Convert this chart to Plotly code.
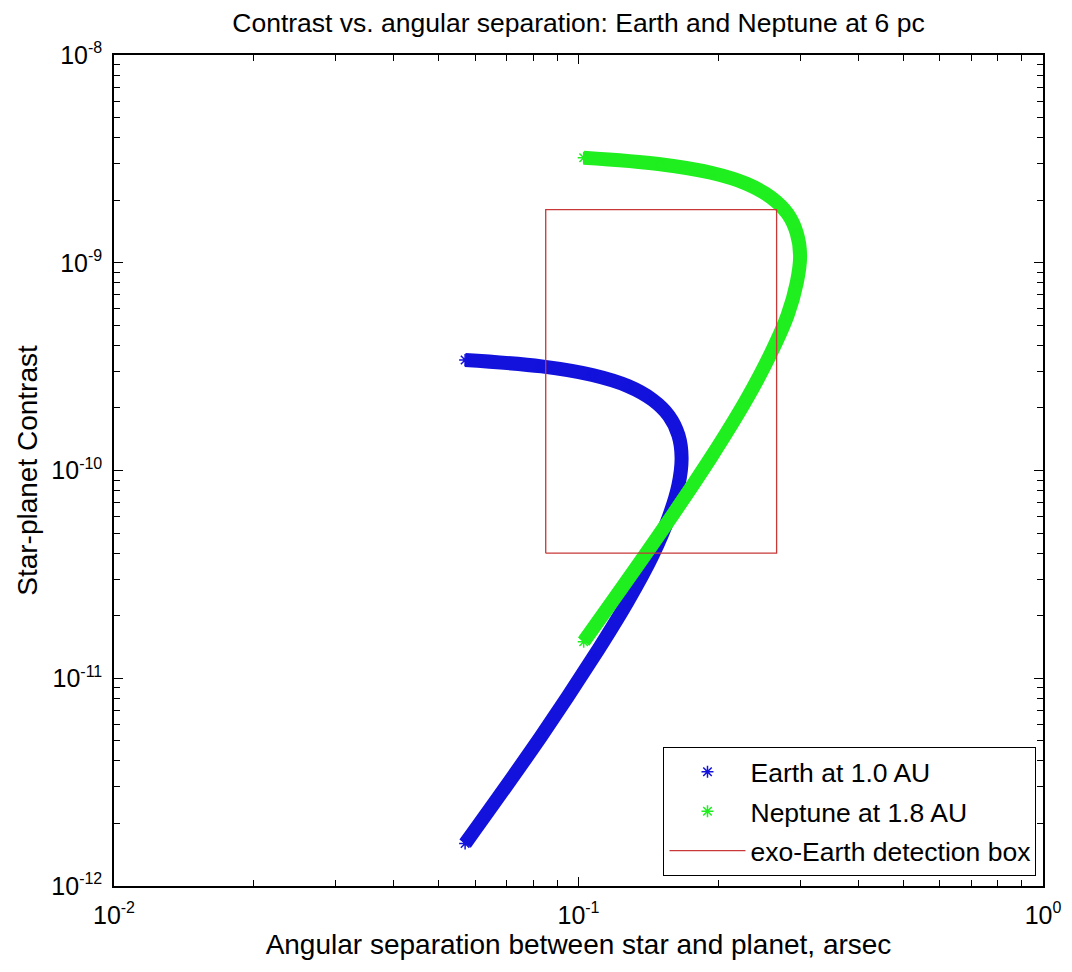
import plotly.graph_objects as go

# Earth at 1.0 AU: angular separation (arcsec) and star-planet contrast along the orbit
earth_sep = [0.0570, 0.0833, 0.1071, 0.1277, 0.1443, 0.1566, 0.1641, 0.1667,
             0.1641, 0.1566, 0.1443, 0.1277, 0.1071, 0.0833, 0.0570]
earth_contrast = [3.40e-10, 3.17e-10, 2.88e-10, 2.55e-10, 2.19e-10, 1.83e-10, 1.48e-10, 1.15e-10,
                  8.5e-11, 6.0e-11, 3.9e-11, 2.35e-11, 1.24e-11, 5.3e-12, 1.6e-12]

# Neptune at 1.8 AU
neptune_sep = [0.1026, 0.150, 0.193, 0.230, 0.260, 0.282, 0.295, 0.300,
               0.295, 0.282, 0.260, 0.230, 0.193, 0.150, 0.1026]
neptune_contrast = [3.20e-9, 2.98e-9, 2.71e-9, 2.40e-9, 2.06e-9, 1.72e-9, 1.39e-9, 1.08e-9,
                    8.0e-10, 5.6e-10, 3.7e-10, 2.2e-10, 1.16e-10, 5.0e-11, 1.5e-11]

# exo-Earth detection box: separation range and contrast range
box_sep = [0.085, 0.267]
box_contrast = [4.0e-11, 1.8e-9]

series_names = ["Earth at 1.0 AU", "Neptune at 1.8 AU", "exo-Earth detection box"]

# decade ticks and their exponent labels
x_decades = [-2, -1, 0]
y_decades = [-12, -11, -10, -9, -8]
x_exponents = ["-2", "-1", "0"]
y_exponents = ["-12", "-11", "-10", "-9", "-8"]

BLUE = "#1212dc"
GREEN = "#1fee1f"
RED = "#c83838"
FONT = "Liberation Sans, Arial, sans-serif"


def power_label(exp):
    return f"10<sup><span style='font-size:16px'>{exp}</span></sup>"


fig = go.Figure()

for name, xs, ys, color in [
    (series_names[0], earth_sep, earth_contrast, BLUE),
    (series_names[1], neptune_sep, neptune_contrast, GREEN),
]:
    group = name.split()[0]
    # thick band traced by the dense asterisk markers
    fig.add_trace(go.Scatter(
        x=xs, y=ys, mode="lines", line=dict(color=color, width=14, shape="spline"),
        legendgroup=group, showlegend=False, hoverinfo="skip",
    ))
    fig.add_trace(go.Scatter(
        x=xs, y=ys, mode="markers", name=name, legendgroup=group,
        marker=dict(symbol="asterisk-open", size=10, color=color,
                    line=dict(color=color, width=1.5)),
    ))

bx = [box_sep[0], box_sep[1], box_sep[1], box_sep[0], box_sep[0]]
by = [box_contrast[0], box_contrast[0], box_contrast[1], box_contrast[1], box_contrast[0]]
fig.add_trace(go.Scatter(
    x=bx, y=by, mode="lines", name=series_names[2], legendgroup="box",
    line=dict(color=RED, width=1.3),
))


def minor_vals(decades):
    return [m * 10.0 ** d for d in decades[:-1] for m in range(2, 10)]


axis_common = dict(
    type="log", showline=True, linecolor="black", linewidth=1.5, mirror="ticks",
    ticks="inside", ticklen=9, tickwidth=1.3, tickcolor="black",
    tickmode="array", showgrid=False, zeroline=False,
    tickfont=dict(family=FONT, size=25, color="black"),
)

fig.update_xaxes(
    range=[x_decades[0], x_decades[-1]],
    tickvals=[10.0 ** d for d in x_decades],
    ticktext=[power_label(e) for e in x_exponents],
    ticklabelstandoff=6,
    minor=dict(ticks="inside", ticklen=6, tickwidth=1.3, tickcolor="black",
               tickmode="array", tickvals=minor_vals(x_decades), showgrid=False),
    title=dict(text="Angular separation between star and planet, arsec",
               font=dict(family=FONT, size=28, color="black"), standoff=2),
    **axis_common,
)
fig.update_yaxes(
    range=[y_decades[0], y_decades[-1]],
    tickvals=[10.0 ** d for d in y_decades],
    ticktext=[power_label(e) for e in y_exponents],
    ticklabelstandoff=5,
    minor=dict(ticks="inside", ticklen=6, tickwidth=1.3, tickcolor="black",
               tickmode="array", tickvals=minor_vals(y_decades), showgrid=False),
    title=dict(text="Star-planet Contrast",
               font=dict(family=FONT, size=28, color="black"), standoff=6),
    **axis_common,
)

fig.update_layout(
    width=1072, height=972,
    margin=dict(l=114, r=29, t=55, b=86),
    paper_bgcolor="white", plot_bgcolor="white",
    font=dict(family=FONT, color="black"),
    title=dict(text="Contrast vs. angular separation: Earth and Neptune at 6 pc",
               font=dict(family=FONT, size=26.5, color="black"),
               x=0.5, xref="paper", xanchor="center",
               y=1 - 23 / 972, yref="container", yanchor="middle"),
    legend=dict(
        x=0.993, y=0.012, xanchor="right", yanchor="bottom",
        bgcolor="white", bordercolor="black", borderwidth=1,
        font=dict(family=FONT, size=26.5, color="black"),
        traceorder="grouped", tracegroupgap=2, itemwidth=76,
    ),
    showlegend=True,
)

fig.write_html("out.html")
